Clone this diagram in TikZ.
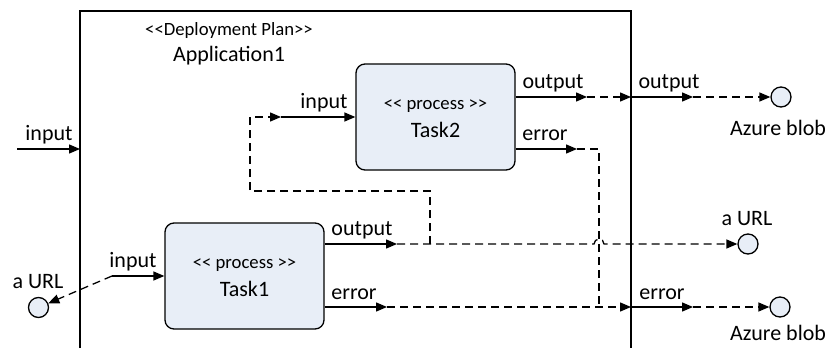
\documentclass[tikz,border=0pt]{standalone}
\usepackage{fontspec}
\setmainfont{Carlito}
\usetikzlibrary{arrows.meta,calc}
\definecolor{taskfill}{RGB}{232,238,247}
\newcommand{\opst}{<\kern0pt<}
\newcommand{\clst}{>\kern0pt>}
\tikzset{
	port/.style={line width=1.3pt, -{Triangle[length=11pt,width=9pt]}},
	link/.style={port, dash pattern=on 8pt off 5pt},
	taskbox/.style={draw, line width=1.3pt, fill=taskfill, rounded corners=9pt, minimum width=159pt, minimum height=106pt, inner sep=0pt},
	store/.style={draw, line width=1.3pt, fill=taskfill, circle, minimum size=20pt, inner sep=0pt},
	lbl/.style={font=\fontsize{22}{24}\selectfont, anchor=base, inner sep=0pt},
	stereo/.style={font=\fontsize{18.7}{20}\selectfont, anchor=base, inner sep=0pt},
}

\begin{document}
\begin{tikzpicture}[x=1pt, y=-1pt]
		%%%%% START %%%%%
		\useasboundingbox (0, 0) rectangle (829, 348);
		
		% deployment plan frame
		\draw[line width=1.3pt] (80, 348) -- (80, 11) -- (631, 11) -- (631, 348);
		\node[stereo] (plan) at (229, 35) {\opst Deployment Plan\clst};
		\node[lbl] (app) at (229, 61) {Application1};
		
		% tasks
		\node[taskbox] (task2) at (435.5, 117) {};
		\node[stereo] (t2kind) at ($(task2.center)+(0, -8)$) {\opst{} process \clst};
		\node[lbl] (t2name) at ($(task2.center)+(0, 20)$) {Task2};
		
		\node[taskbox] (task1) at (244.5, 276) {};
		\node[stereo] (t1kind) at ($(task1.center)+(0, -8)$) {\opst{} process \clst};
		\node[lbl] (t1name) at ($(task1.center)+(0, 20)$) {Task1};
		
		% stores
		\node[store] (blob1) at (781, 97) {};
		\node[lbl] (blob1lbl) at (778, 135) {Azure blob};
		\node[store] (url2) at (748, 244) {};
		\node[lbl] (url2lbl) at (747, 225) {a URL};
		\node[store] (blob2) at (780, 307) {};
		\node[lbl] (blob2lbl) at (778, 340) {Azure blob};
		\node[store] (url1) at (38.5, 307.5) {};
		\node[lbl] (url1lbl) at (38, 288) {a URL};
		
		% port ends
		\coordinate (inL) at (17, 149);
		\coordinate (inR) at (80, 149);
		\coordinate (t2i) at (281, 117);
		\coordinate (t2o) at (587, 97);
		\coordinate (t2e) at (577, 149);
		\coordinate (t1i) at (112, 276);
		\coordinate (t1o) at (397, 244);
		\coordinate (t1e) at (387, 307);
		\coordinate (bo) at (631, 97);
		\coordinate (be) at (631, 307);
		\coordinate (oo) at (693, 97);
		\coordinate (oe) at (693, 307);
		\coordinate (br) at (430, 244);
		\coordinate (lp) at (250, 191);
		\coordinate (jn) at (599, 307);
		
		% ports
		\draw[port] (inL) -- (inR);
		\draw[port] (t2i) -- (task2.west);
		\draw[port] (task2.east |- t2o) -- (t2o);
		\draw[port] (task2.east |- t2e) -- (t2e);
		\draw[port] (t1i) -- (task1.west);
		\draw[port] (task1.east |- t1o) -- (t1o);
		\draw[port] (task1.east |- t1e) -- (t1e);
		\draw[port] (bo) -- (oo);
		\draw[port] (be) -- (oe);
		
		\node[lbl] (inLlbl) at (49, 140) {input};
		\node[lbl] (t2ilbl) at (324, 108) {input};
		\node[lbl] (t2olbl) at (553, 88) {output};
		\node[lbl] (t2elbl) at (545, 140) {error};
		\node[lbl] (t1ilbl) at (133, 267) {input};
		\node[lbl] (t1olbl) at (362, 235) {output};
		\node[lbl] (t1elbl) at (354, 299) {error};
		\node[lbl] (oolbl) at (669, 88) {output};
		\node[lbl] (oelbl) at (662, 299) {error};
		
		% links
		\draw[link] (t2o) -- (bo);
		\draw[link] (oo) -- (blob1);
		\draw[link] (t1o) -- ($(jn |- t1o)+(-5, 0)$) arc[start angle=180, end angle=360, radius=5] -- (url2);
		\draw[link] (br) |- (lp) |- (t2i);
		\draw[link, -] (t2e) -| (jn);
		\draw[link] (t1e) -- (be);
		\draw[link] (oe) -- (blob2);
		\draw[link] (t1i) -- (url1);
		
		%%%%% END %%%%%
\end{tikzpicture}
\end{document}
